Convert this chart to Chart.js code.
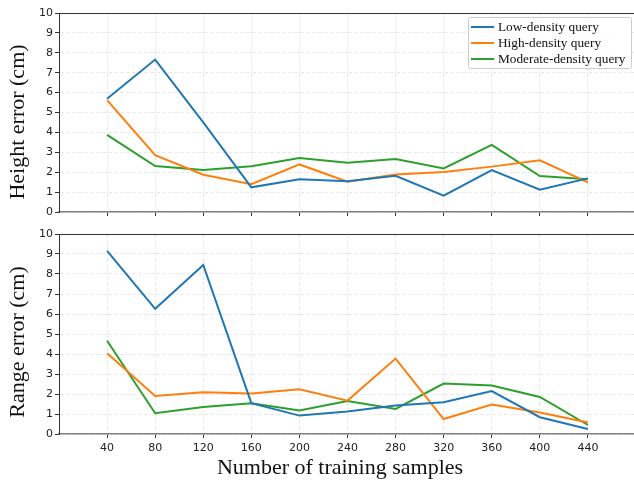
<!DOCTYPE html>
<html>
<head>
<meta charset="utf-8">
<script src="https://cdn.jsdelivr.net/npm/chart.js@4/dist/chart.umd.min.js"></script>
<style>
  html, body { margin: 0; padding: 0; background: #fff; overflow: hidden; }
  body { width: 634px; height: 480px; position: relative; }
  .panel { position: absolute; left: 0; width: 637px; }
  #top { top: 0; height: 225px; }
  #bottom { top: 222px; height: 258px; }
</style>
</head>
<body>
<div class="panel" id="top"><canvas id="chart-height"></canvas></div>
<div class="panel" id="bottom"><canvas id="chart-range"></canvas></div>
<script>
// Number of training samples (x axis)
const samples = [40, 80, 120, 160, 200, 240, 280, 320, 360, 400, 440];

// Height error (cm)
const heightLow  = [5.69, 7.66, 4.5, 1.24, 1.64, 1.54, 1.82, 0.82, 2.11, 1.12, 1.69];
const heightHigh = [5.62, 2.86, 1.87, 1.40, 2.39, 1.52, 1.89, 2.01, 2.28, 2.60, 1.49];
const heightMod  = [3.88, 2.31, 2.11, 2.30, 2.71, 2.48, 2.66, 2.19, 3.37, 1.81, 1.64];

// Range error (cm)
const rangeLow  = [9.16, 6.26, 8.45, 1.54, 0.92, 1.12, 1.42, 1.59, 2.15, 0.84, 0.25];
const rangeHigh = [4.04, 1.90, 2.09, 2.02, 2.24, 1.67, 3.77, 0.75, 1.47, 1.07, 0.57];
const rangeMod  = [4.66, 1.04, 1.35, 1.54, 1.17, 1.65, 1.25, 2.52, 2.42, 1.85, 0.45];

const seriesNames = ["Low-density query", "High-density query", "Moderate-density query"];
const seriesColors = ["#1f77b4", "#ff7f0e", "#2ca02c"];
const yTicks = [0, 1, 2, 3, 4, 5, 6, 7, 8, 9, 10];

const serif = "'Liberation Serif', 'Times New Roman', serif";
const sans = "'DejaVu Sans', sans-serif";

// top spine (matplotlib frame)
const frameTop = {
  id: "frameTop",
  afterDraw(chart) {
    const { ctx, chartArea: a } = chart;
    ctx.save();
    ctx.strokeStyle = "#333";
    ctx.lineWidth = 1;
    ctx.beginPath();
    ctx.moveTo(a.left, a.top + 0.5);
    ctx.lineTo(a.right, a.top + 0.5);
    ctx.stroke();
    ctx.restore();
  },
};

// axis titles placed like the matplotlib figure
const axisTitles = {
  id: "axisTitles",
  afterDraw(chart) {
    const o = chart.options.plugins.axisTitles;
    const ctx = chart.ctx;
    ctx.save();
    ctx.fillStyle = "#111";
    ctx.font = "22px " + serif;
    ctx.textAlign = "center";
    ctx.textBaseline = "middle";
    ctx.translate(18, o.yCenter);
    ctx.rotate(-Math.PI / 2);
    ctx.fillText(o.yText, 0, 0);
    ctx.restore();
    if (o.xText) {
      ctx.save();
      ctx.fillStyle = "#111";
      ctx.font = "22px " + serif;
      ctx.textAlign = "center";
      ctx.textBaseline = "middle";
      ctx.fillText(o.xText, 340, o.xCenter);
      ctx.restore();
    }
  },
};

// legend box in the upper right of the top panel
const boxLegend = {
  id: "boxLegend",
  afterDraw(chart) {
    if (!chart.options.plugins.boxLegend.show) return;
    const ctx = chart.ctx;
    const x = 468, y = 17, w = 163, h = 51;
    ctx.save();
    ctx.fillStyle = "rgba(255,255,255,0.85)";
    ctx.strokeStyle = "#cccccc";
    ctx.lineWidth = 1;
    ctx.beginPath();
    ctx.roundRect(x + 0.5, y + 0.5, w, h, 2);
    ctx.fill();
    ctx.stroke();
    ctx.font = "13.3px " + serif;
    ctx.textBaseline = "middle";
    chart.data.datasets.forEach((ds, i) => {
      const ry = y + 10 + i * 16;
      ctx.strokeStyle = ds.borderColor;
      ctx.lineWidth = 2;
      ctx.beginPath();
      ctx.moveTo(x + 3, ry);
      ctx.lineTo(x + 26, ry);
      ctx.stroke();
      ctx.fillStyle = "#111";
      ctx.fillText(ds.label, x + 30, ry + 1);
    });
    ctx.restore();
  },
};

function makeChart(id, titles, values, showXLabels, showLegend, padTop, xHeight) {
  return new Chart(document.getElementById(id), {
    type: "line",
    data: {
      datasets: values.map((v, i) => ({
        label: seriesNames[i],
        data: samples.map((s, j) => ({ x: s, y: v[j] })),
        borderColor: seriesColors[i],
        backgroundColor: seriesColors[i],
        borderWidth: 2,
        pointRadius: 0,
        tension: 0,
      })),
    },
    options: {
      responsive: true,
      maintainAspectRatio: false,
      animation: false,
      layout: { padding: { top: padTop, right: 1, left: 0, bottom: 0 } },
      plugins: {
        legend: { display: false },
        tooltip: { enabled: false },
        boxLegend: { show: showLegend },
        axisTitles: titles,
      },
      scales: {
        x: {
          type: "linear",
          min: 0,
          max: 480,
          afterBuildTicks: (s) => { s.ticks = samples.map((v) => ({ value: v })); },
          afterFit: (s) => { s.height = xHeight; },
          grid: { color: "#e4e4e4", lineWidth: 0.8, tickColor: "#333", tickLength: 4, tickWidth: 1 },
          border: { color: "#808080", width: 1.5, dash: [4, 2] },
          ticks: { display: showXLabels, color: "#222", font: { family: sans, size: 11 }, padding: 4, maxRotation: 0, autoSkip: false },
        },
        y: {
          min: 0,
          max: 10,
          afterBuildTicks: (s) => { s.ticks = yTicks.map((v) => ({ value: v })); },
          afterFit: (s) => { s.width = 59; },
          grid: { color: "#e4e4e4", lineWidth: 0.8, tickColor: "#333", tickLength: 4, tickWidth: 1 },
          border: { color: "#333", width: 1, dash: [4, 2] },
          ticks: { color: "#222", font: { family: sans, size: 11 }, padding: 2 },
        },
      },
    },
    plugins: [frameTop, boxLegend, axisTitles],
  });
}

makeChart("chart-height", { yText: "Height error (cm)", yCenter: 122 },
  [heightLow, heightHigh, heightMod], false, true, 13, 13);
makeChart("chart-range", { yText: "Range error (cm)", yCenter: 120, xText: "Number of training samples", xCenter: 246 },
  [rangeLow, rangeHigh, rangeMod], true, false, 12, 46);
</script>
</body>
</html>
